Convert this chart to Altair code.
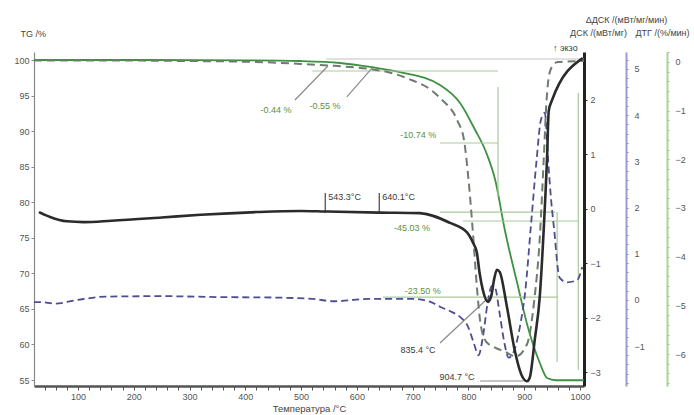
import altair as alt
import pandas as pd

FONT = "Liberation Sans"

# ---- measured curves -------------------------------------------------------
# TG, mass %
tg_T = [21, 229, 408, 498, 570, 624, 677, 749, 785, 812, 830, 848, 866, 887, 907, 928, 941, 957, 1007]
tg_pct = [100.0, 100.0, 99.96, 99.86, 99.58, 99.02, 98.31, 96.48, 93.95, 90.16, 87.34, 83.12,
          75.81, 68.78, 62.31, 57.39, 55.28, 54.97, 54.97]

# DSC, mW/mg (exo up)
dsc_T = [30, 50, 80, 110, 160, 250, 320, 420, 500, 543, 640, 713, 767, 797, 808, 815, 820, 826,
         835, 841, 846, 851, 856, 869, 883, 895, 905, 910, 919, 928, 934, 941, 944, 950, 1005]
dsc_v = [-0.06, -0.15, -0.23, -0.245, -0.22, -0.16, -0.11, -0.06, -0.04, -0.05, -0.07, -0.08,
         -0.26, -0.43, -0.62, -0.8, -1.18, -1.5, -1.71, -1.6, -1.3, -1.12, -1.16, -1.8, -2.6,
         -3.05, -3.17, -3.1, -2.4, -1.6, -0.57, 0.95, 1.8, 2.0, 2.77]

# DDSC, mW/mg/min
ddsc_T = [21, 32, 60, 100, 150, 250, 350, 450, 520, 560, 620, 700, 735, 749, 770, 785, 800, 810,
          818, 826, 834, 842, 848, 856, 864, 872, 882, 892, 902, 912, 922, 930, 937, 943, 948,
          955, 960, 964, 977, 995, 1004]
ddsc_v = [-0.05, -0.05, -0.08, 0.0, 0.07, 0.08, 0.06, 0.05, 0.02, -0.03, 0.02, 0.02, -0.06,
          -0.15, -0.26, -0.37, -0.6, -0.95, -1.2, -0.8, -0.1, 0.3, 0.25, -0.3, -0.9, -1.25,
          -1.1, -0.6, 0.2, 1.6, 3.0, 3.9, 4.05, 3.0, 2.2, 1.36, 0.7, 0.47, 0.38, 0.43, 0.71]

# DTG, %/min
dtg_T = [21, 150, 300, 420, 500, 560, 620, 660, 700, 730, 750, 780, 792, 800, 808, 815, 822,
         832, 845, 865, 885, 905, 918, 928, 935, 940, 945, 952, 960, 1007]
dtg_v = [0.03, 0.03, 0.02, 0.0, -0.04, -0.08, -0.14, -0.22, -0.38, -0.55, -0.75, -1.2, -1.6,
         -2.4, -3.5, -4.6, -5.4, -5.75, -5.85, -5.95, -6.05, -5.8, -4.9, -3.6, -2.0, -0.8,
         -0.25, -0.06, 0.0, 0.02]

# ---- evaluation marks (placed on the TG scale) --------------------------------
seg_T1 = [545, 520, 749, 853, 749, 790, 997, 959, 647, 489, 582, 749, 821, 543.3, 640.1]
seg_T2 = [1007, 853, 853, 853, 955, 997, 997, 959, 961, 548, 627, 831.5, 898, 543.3, 640.1]
seg_G1 = [100.14, 98.45, 88.33, 96.2, 78.62, 77.36, 95.36, 78.62, 66.67, 94.37, 94.80, 60.2,
          54.86, 81.30, 81.30]
seg_G2 = [100.14, 98.45, 88.33, 80.73, 78.62, 77.36, 56.41, 57.53, 66.67, 99.16, 98.87, 66.25,
          54.86, 78.48, 78.48]
seg_kind = ["base", "step", "step", "step", "step", "step", "step", "step", "step",
            "lead", "lead", "lead", "lead", "tick", "tick"]

lbl_text = ["-0.44 %", "-0.55 %", "-10.74 %", "-45.03 %", "-23.50 %",
            "543.3°C", "640.1°C", "835.4 °C", "904.7 °C", "↑ экзо"]
lbl_T = [455, 543, 710, 699, 718, 548.7, 645.5, 709.6, 779.5, 951.6]
lbl_G = [92.97, 93.53, 89.45, 76.37, 67.52, 80.73, 80.73, 59.22, 55.42, 101.69]
lbl_kind = ["pct", "pct", "pct", "pct", "pct", "temp", "temp", "temp", "temp", "temp"]
lbl_align = ["center", "center", "center", "center", "center",
             "left", "left", "center", "center", "left"]

# ---- scales ---------------------------------------------------------------
T_DOM = [21.1, 1007.2]
TG_DOM = [54.16, 101.125]
DSC_DOM = [-3.257, 2.882]
DDSC_DOM = [-1.866, 5.368]
DTG_DOM = [-6.657, 0.205]

kind_scale = alt.Scale(domain=["base", "step", "lead", "tick", "pct", "temp"],
                       range=["#c4c4c4", "#a9c99b", "#8a8a8a", "#444444", "#5e8f3a", "#3a3a3a"])


def ys(dom):
    return alt.Scale(domain=dom, nice=False, zero=False)


def fine_values(lo, hi, step):
    n = int(round((hi - lo) / step))
    return [round(lo + step * i, 1) + 0.0 for i in range(n + 1)]


INT_ONLY = "abs(datum.value - round(datum.value)) < 0.001 ? format(datum.value, 'd') : ''"

x_axis = alt.Axis(
    values=list(range(40, 1001, 20)),
    labelExpr="datum.value % 100 == 0 ? format(datum.value, 'd') : ''",
    title="Температура /°C", tickSize=4, tickColor="#555",
    domainColor="#555", domainWidth=2.5, labelColor="#555", labelFontSize=9,
    labelPadding=2, titleFontSize=9.5, titleFontWeight="normal", titleColor="#444",
    titlePadding=2, grid=False, labelOverlap=False, labelFlush=False,
)


def xenc():
    # every layer carries the same bottom axis so the shared axis merges cleanly
    return alt.X("T:Q", scale=alt.Scale(domain=T_DOM, nice=False, zero=False), axis=x_axis)


tg_axis = alt.Axis(
    orient="left", values=list(range(55, 101, 5)), format="d", title="TG /%", titleAngle=0,
    titleAlign="left", titleBaseline="middle", titleX=-14, titleY=-19, titleFontSize=9,
    titleFontWeight="normal", titleColor="#444", tickSize=3, tickColor="#888",
    domainColor="#888", domainWidth=1.2, labelColor="#555", labelFontSize=9,
    labelPadding=2, grid=False, labelFlush=False,
)

dsc_axis = alt.Axis(
    orient="right", offset=0, values=[-3, -2, -1, 0, 1, 2], format="d", title="ДСК /(мВт/мг)",
    titleAngle=0, titleAlign="center", titleBaseline="middle", titleX=14, titleY=-20,
    titleFontSize=9, titleFontWeight="normal", titleColor="#444", tickSize=3,
    tickColor="#222", domainColor="#222", domainWidth=3, labelColor="#555",
    labelFontSize=9, labelPadding=3, grid=False, labelFlush=False,
)

ddsc_axis = alt.Axis(
    orient="right", offset=42, values=fine_values(-1.8, 5.2, 0.2), labelExpr=INT_ONLY,
    title="ΔДСК /(мВт/мг/мин)", titleAngle=0, titleAlign="center", titleBaseline="middle",
    titleX=0, titleY=-33, titleFontSize=9, titleFontWeight="normal", titleColor="#444",
    tickSize=2, tickColor="#7f7fcf", domainColor="#9a9ad8", domainWidth=2,
    labelColor="#555", labelFontSize=9, labelPadding=6, grid=False,
    labelOverlap=False, labelFlush=False,
)

dtg_axis = alt.Axis(
    orient="right", offset=83, values=fine_values(-6.6, 0.2, 0.2), labelExpr=INT_ONLY,
    title="ДТГ /(%/мин)", titleAngle=0, titleAlign="center", titleBaseline="middle",
    titleX=-5, titleY=-20, titleFontSize=9, titleFontWeight="normal", titleColor="#444",
    tickSize=2, tickColor="#8cc47c", domainColor="#a6d496", domainWidth=2,
    labelColor="#555", labelFontSize=9, labelPadding=6, grid=False,
    labelOverlap=False, labelFlush=False,
)

# ---- layers ---------------------------------------------------------------
tg_df = pd.DataFrame({"T": tg_T, "v": tg_pct})
dsc_df = pd.DataFrame({"T": dsc_T, "v": dsc_v})
ddsc_df = pd.DataFrame({"T": ddsc_T, "v": ddsc_v})
dtg_df = pd.DataFrame({"T": dtg_T, "v": dtg_v})
seg_df = pd.DataFrame({"T": seg_T1, "T2": seg_T2, "v": seg_G1, "v2": seg_G2, "kind": seg_kind})
lbl_df = pd.DataFrame({"T": lbl_T, "v": lbl_G, "text": lbl_text, "kind": lbl_kind,
                       "align": lbl_align})

segs = alt.Chart(seg_df).mark_rule(strokeWidth=1.2).encode(
    x=xenc(),
    x2="T2:Q",
    y=alt.Y("v:Q", scale=ys(TG_DOM), axis=None),
    y2="v2:Q",
    color=alt.Color("kind:N", scale=kind_scale, legend=None),
)


def label_layer(align):
    return alt.Chart(lbl_df).transform_filter(alt.datum.align == align).mark_text(
        fontSize=9, align=align, baseline="middle", font=FONT
    ).encode(
        x=xenc(),
        y=alt.Y("v:Q", scale=ys(TG_DOM), axis=None),
        text="text:N",
        color=alt.Color("kind:N", scale=kind_scale, legend=None),
    )


tg_line = alt.Chart(tg_df).mark_line(
    color="#3f9142", strokeWidth=1.8, interpolate="monotone"
).encode(x=xenc(), y=alt.Y("v:Q", scale=ys(TG_DOM), axis=tg_axis))

ddsc_line = alt.Chart(ddsc_df).mark_line(
    color="#4d4d92", strokeWidth=1.8, strokeDash=[7, 4], interpolate="monotone"
).encode(x=xenc(), y=alt.Y("v:Q", scale=ys(DDSC_DOM), axis=ddsc_axis))

dtg_line = alt.Chart(dtg_df).mark_line(
    color="#6e7b6e", strokeWidth=2, strokeDash=[8, 5], interpolate="monotone"
).encode(x=xenc(), y=alt.Y("v:Q", scale=ys(DTG_DOM), axis=dtg_axis))

dsc_line = alt.Chart(dsc_df).mark_line(
    color="#2b2b2b", strokeWidth=2.6, interpolate="monotone"
).encode(x=xenc(), y=alt.Y("v:Q", scale=ys(DSC_DOM), axis=dsc_axis))

chart = alt.layer(
    tg_line, segs, label_layer("center"), label_layer("left"), ddsc_line, dtg_line, dsc_line
).resolve_scale(
    y="independent"
).properties(
    width=550,
    height=334,
    padding={"left": 34, "top": 52, "right": 110, "bottom": 29},
    autosize=alt.AutoSizeParams(type="none"),
    background="white",
).configure(font=FONT).configure_view(stroke=None)

chart.save("out.html", embed_options={"renderer": "svg", "actions": False})
